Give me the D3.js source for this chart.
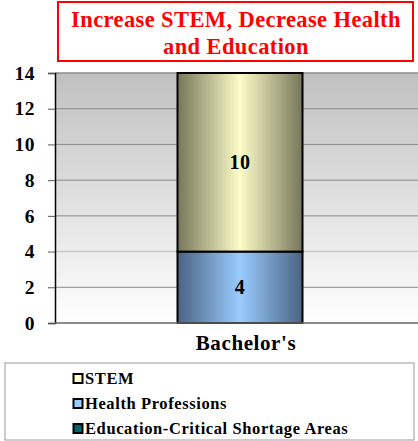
<!DOCTYPE html>
<html>
<head>
<meta charset="utf-8">
<script src="https://cdn.jsdelivr.net/npm/d3@7"></script>
<style>
  body { margin: 0; background: #fff; }
  text { font-family: "Liberation Serif", "DejaVu Serif", serif; font-weight: bold; }
</style>
</head>
<body>
<div class="chart"></div>
<script>
// chart data
var categories = ["Bachelor's"];
var seriesNames = ["STEM", "Health Professions", "Education-Critical Shortage Areas"];
var stemValues = [10];
var healthValues = [4];
var educationValues = [0];
var yTicks = [0, 2, 4, 6, 8, 10, 12, 14];

var svgWidth = 418;
var svgHeight = 441;

var margin = { top: 73, right: -7, bottom: 118, left: 55 };
var width = svgWidth - margin.left - margin.right;
var height = svgHeight - margin.top - margin.bottom;

var svg = d3.select(".chart")
  .append("svg")
  .attr("width", svgWidth)
  .attr("height", svgHeight);

var defs = svg.append("defs");

// background gradient
var bg = defs.append("linearGradient").attr("id", "bg")
  .attr("x1", 0).attr("y1", 0).attr("x2", 0).attr("y2", 1);
bg.append("stop").attr("offset", "0%").attr("stop-color", "#c0c0c0");
bg.append("stop").attr("offset", "100%").attr("stop-color", "#ffffff");

function barGradient(id, edge, mid) {
  var g = defs.append("linearGradient").attr("id", id)
    .attr("x1", 0).attr("y1", 0).attr("x2", 1).attr("y2", 0);
  g.append("stop").attr("offset", "0%").attr("stop-color", edge);
  g.append("stop").attr("offset", "50%").attr("stop-color", mid);
  g.append("stop").attr("offset", "100%").attr("stop-color", edge);
}
barGradient("gStem", "#76765a", "#fdfdc9");
barGradient("gHealth", "#4a6382", "#99ccff");
barGradient("gEdu", "#063a3a", "#0f7070");

var fills = ["url(#gStem)", "url(#gHealth)", "url(#gEdu)"];
var legendColors = ["#ffffcc", "#99ccff", "#006666"];

// title box
svg.append("rect")
  .attr("x", 58).attr("y", 2)
  .attr("width", 355).attr("height", 59)
  .attr("fill", "#fff")
  .attr("stroke", "#ff0000")
  .attr("stroke-width", 2);

var title = svg.append("text")
  .attr("text-anchor", "middle")
  .attr("fill", "#ff0000")
  .attr("font-size", "22.5px")
  .attr("letter-spacing", "0.4px");
title.append("tspan").attr("x", 236).attr("y", 27).text("Increase STEM, Decrease Health");
title.append("tspan").attr("x", 236).attr("y", 54).text("and Education");

var chartGroup = svg.append("g")
  .attr("transform", `translate(${margin.left}, ${margin.top})`);

var x = d3.scaleBand()
  .domain(categories)
  .range([0, width])
  .paddingInner(0)
  .paddingOuter(0.98);

var y = d3.scaleLinear()
  .domain([0, 14])
  .range([height, 0]);

chartGroup.append("rect")
  .attr("width", width)
  .attr("height", height)
  .attr("fill", "url(#bg)");

// gridlines
chartGroup.selectAll(".grid")
  .data(yTicks.filter(d => d > 0))
  .enter()
  .append("line")
  .attr("x1", 0).attr("x2", width)
  .attr("y1", d => y(d)).attr("y2", d => y(d))
  .attr("stroke", d => d === 4 ? "#c8c8c8" : "#8c8c8c")
  .attr("stroke-width", d => d === 14 || d === 4 ? 1.5 : 1);

// stacked data
var rows = categories.map(function(c, i) {
  return { cat: c, STEM: stemValues[i], "Health Professions": healthValues[i],
    "Education-Critical Shortage Areas": educationValues[i] };
});
var stack = d3.stack().keys(["Education-Critical Shortage Areas", "Health Professions", "STEM"]);
var series = stack(rows);

var layers = chartGroup.selectAll(".layer")
  .data(series)
  .enter()
  .append("g")
  .attr("fill", d => fills[seriesNames.indexOf(d.key)]);

layers.selectAll("rect")
  .data(d => d.filter(p => p[1] - p[0] > 0))
  .enter()
  .append("rect")
  .attr("x", d => x(d.data.cat))
  .attr("y", d => y(d[1]))
  .attr("width", x.bandwidth())
  .attr("height", d => y(d[0]) - y(d[1]))
  .attr("stroke", "#000")
  .attr("stroke-width", 2);

layers.selectAll(".val")
  .data(d => d.filter(p => p[1] - p[0] > 0))
  .enter()
  .append("text")
  .attr("x", d => x(d.data.cat) + x.bandwidth() / 2)
  .attr("y", d => (y(d[0]) + y(d[1])) / 2)
  .attr("dy", "0.35em")
  .attr("text-anchor", "middle")
  .attr("fill", "#000")
  .attr("font-size", "20px")
  .attr("letter-spacing", "0.5px")
  .text(d => d[1] - d[0]);

// axes
var leftAxis = d3.axisLeft(y).tickValues(yTicks).tickSize(7).tickPadding(13);
var yAxisG = chartGroup.append("g").call(leftAxis);
yAxisG.select(".domain").attr("stroke", "#000").attr("stroke-width", 1.5);
yAxisG.selectAll(".tick line").attr("stroke", "#555");
yAxisG.selectAll(".tick text").attr("font-size", "19.5px").attr("fill", "#000")
  .attr("letter-spacing", "0.5px")
  .style("font-family", "Liberation Serif").style("font-weight", "bold");

chartGroup.append("line")
  .attr("x1", 0).attr("x2", width)
  .attr("y1", height).attr("y2", height)
  .attr("stroke", "#666").attr("stroke-width", 1.5);

chartGroup.selectAll(".xlabel")
  .data(categories)
  .enter()
  .append("text")
  .attr("x", d => x(d) + x.bandwidth() / 2 + 6)
  .attr("y", height + 27)
  .attr("text-anchor", "middle")
  .attr("font-size", "21px")
  .attr("letter-spacing", "0.6px")
  .text(d => d);

// legend
var legend = svg.append("g");
legend.append("rect")
  .attr("x", 5).attr("y", 363)
  .attr("width", 409).attr("height", 77)
  .attr("fill", "#fff")
  .attr("stroke", "#999")
  .attr("stroke-width", 1);

var items = legend.selectAll(".item")
  .data(seriesNames)
  .enter()
  .append("g")
  .attr("transform", (d, i) => `translate(72, ${378 + i * 25})`);

items.append("rect")
  .attr("x", 1.5).attr("y", -4)
  .attr("width", 9).attr("height", 9)
  .attr("fill", (d, i) => legendColors[i])
  .attr("stroke", "#000")
  .attr("stroke-width", 2);

items.append("text")
  .attr("x", 13)
  .attr("dy", "0.35em")
  .attr("font-size", "16.5px")
  .attr("letter-spacing", "0.6px")
  .text(d => d);
</script>
</body>
</html>
